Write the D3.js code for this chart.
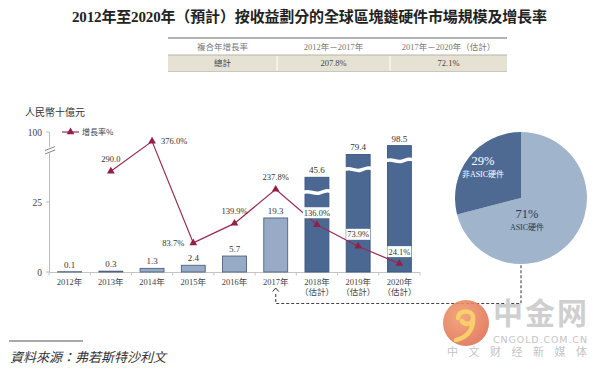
<!DOCTYPE html>
<html>
<head>
<meta charset="utf-8">
<script src="https://cdn.jsdelivr.net/npm/d3@7"></script>
<style>
  body { margin: 0; background: #fff; }
</style>
</head>
<body>
<div id="chart"></div>
<script>
// data
const title = "2012年至2020年（預計）按收益劃分的全球區塊鏈硬件市場規模及增長率";
const cagrHeader = ["複合年增長率", "2012年－2017年", "2017年－2020年（估計）"];
const cagrRow = ["總計", "207.8%", "72.1%"];

const years = ["2012", "2013", "2014", "2015", "2016", "2017", "2018", "2019", "2020"];
const forecast = [false, false, false, false, false, false, true, true, true];
const marketSize = [0.1, 0.3, 1.3, 2.4, 5.7, 19.3, 45.6, 79.4, 98.5];
const sizeLabels = ["0.1", "0.3", "1.3", "2.4", "5.7", "19.3", "45.6", "79.4", "98.5"];

const growthYears = ["2013", "2014", "2015", "2016", "2017", "2018", "2019", "2020"];
const growth = [290.0, 376.0, 83.7, 139.9, 237.8, 136.0, 73.9, 24.1];
const growthLabels = ["290.0", "376.0%", "83.7%", "139.9%", "237.8%", "136.0%", "73.9%", "24.1%"];
const growthPlace = ["above", "right", "left", "above", "above", "above", "above", "above"];

const yTicks = [0, 25, 100];
const pieNames = ["ASIC硬件", "非ASIC硬件"];
const pieValues = [71, 29];

const SERIF = "'Liberation Serif','Noto Sans CJK TC',serif";
const CJK = "'Noto Sans CJK TC','Noto Sans CJK SC',sans-serif";

const svg = d3.select("#chart").append("svg")
    .attr("width", 600)
    .attr("height", 370)
    .style("background", "#fff");

// title
svg.append("text")
    .attr("x", 72).attr("y", 22)
    .attr("textLength", 475).attr("lengthAdjust", "spacing")
    .style("font-family", SERIF).style("font-size", "15px").style("font-weight", "bold")
    .attr("fill", "#222")
    .text(title);

// CAGR table
const colX = [168, 277, 390, 507];
const tbl = svg.append("g");
tbl.append("rect").attr("x", colX[0]).attr("y", 55).attr("width", colX[3] - colX[0]).attr("height", 16)
    .attr("fill", "#e5e2d4");
tbl.append("line").attr("x1", colX[0]).attr("x2", colX[3]).attr("y1", 38).attr("y2", 38)
    .attr("stroke", "#999").attr("stroke-width", 1.3);
tbl.append("line").attr("x1", colX[0]).attr("x2", colX[3]).attr("y1", 55).attr("y2", 55)
    .attr("stroke", "#b5b3a6").attr("stroke-width", 1);
tbl.append("line").attr("x1", colX[0]).attr("x2", colX[3]).attr("y1", 71.5).attr("y2", 71.5)
    .attr("stroke", "#c9c7bb").attr("stroke-width", 1);
[colX[1], colX[2]].forEach(cx => {
  tbl.append("line").attr("x1", cx).attr("x2", cx).attr("y1", 56).attr("y2", 71)
      .attr("stroke", "#fff").attr("stroke-width", 1);
});
cagrHeader.forEach((t, i) => {
  tbl.append("text").attr("x", (colX[i] + colX[i + 1]) / 2).attr("y", 49.5)
      .attr("text-anchor", "middle").attr("fill", "#777")
      .style("font-family", SERIF).style("font-size", "8.5px").text(t);
});
cagrRow.forEach((t, i) => {
  tbl.append("text").attr("x", (colX[i] + colX[i + 1]) / 2).attr("y", 66)
      .attr("text-anchor", "middle").attr("fill", "#444")
      .style("font-family", SERIF).style("font-size", "8.5px").text(t);
});

// scales
const x = d3.scaleBand().domain(years).range([49, 420]).paddingInner(0.42).paddingOuter(0.21);
const bw = x.bandwidth();
const cx = d => x(d) + bw / 2;
const yLow = d3.scaleLinear().domain([0, 25]).range([272, 202]);
const yHigh = d3.scaleLog().domain([25, 100]).range([202, 145]);   // compressed part above the axis break
const y = v => v <= 25 ? yLow(v) : yHigh(v);
const yG = d3.scaleLinear().domain([0, 400]).range([272, 133]);
const axisTop = 132;

// y axis title
svg.append("text").attr("x", 25).attr("y", 116)
    .attr("fill", "#333").style("font-family", CJK).style("font-size", "10px")
    .text("人民幣十億元");

// y axis with break
const ax = svg.append("g").attr("stroke", "#bbb").attr("stroke-width", 1);
ax.append("line").attr("x1", 49.5).attr("x2", 49.5).attr("y1", y(0)).attr("y2", 153);
ax.append("line").attr("x1", 49.5).attr("x2", 49.5).attr("y1", 147).attr("y2", axisTop);
svg.append("rect").attr("x", 44).attr("y", 147.5).attr("width", 12).attr("height", 4.5).attr("fill", "#fff");
[[150.5, 146.5], [154, 150]].forEach(([a, b]) => {
  svg.append("line").attr("x1", 45).attr("x2", 55).attr("y1", a).attr("y2", b)
      .attr("stroke", "#777").attr("stroke-width", 0.9);
});
yTicks.forEach(t => {
  const ty = t === 100 ? axisTop : y(t);
  svg.append("line").attr("x1", 46).attr("x2", 49.5).attr("y1", ty).attr("y2", ty)
      .attr("stroke", "#bbb");
  svg.append("text").attr("x", 42).attr("y", ty + 3.5).attr("text-anchor", "end")
      .attr("fill", "#444").style("font-family", SERIF).style("font-size", "9.5px").text(t);
});

// x axis
svg.append("line").attr("x1", 49).attr("x2", 420).attr("y1", 272.5).attr("y2", 272.5)
    .attr("stroke", "#c4c4c4");
const bounds = years.map(d => x(d) - x.step() * x.paddingInner() / 2)
    .concat([x(years[years.length - 1]) + bw + x.step() * x.paddingInner() / 2]);
svg.append("g").selectAll("line").data(bounds).join("line")
    .attr("x1", d => d).attr("x2", d => d).attr("y1", 272.5).attr("y2", 275.5)
    .attr("stroke", "#c4c4c4");
const xl = svg.append("g").selectAll("text").data(years).join("text")
    .attr("x", d => cx(d)).attr("y", 285)
    .attr("text-anchor", "middle").attr("fill", "#444")
    .style("font-family", SERIF).style("font-size", "8.5px");
xl.append("tspan").text(d => d + "年");
xl.filter((d, i) => forecast[i]).append("tspan")
    .attr("x", d => cx(d)).attr("dy", 9.5).text("（估計）");

// bars
const bars = years.map((yr, i) => ({ yr, v: marketSize[i], est: forecast[i], label: sizeLabels[i] }));
svg.append("g").selectAll("rect").data(bars).join("rect")
    .attr("x", d => x(d.yr)).attr("y", d => y(d.v))
    .attr("width", bw).attr("height", d => y(0) - y(d.v))
    .attr("fill", d => d.est ? "#4b6893" : "#97abc6")
    .attr("stroke", d => d.est ? "#3b5580" : "#4f6283")
    .attr("stroke-width", 0.9);

// wavy white breaks on the forecast bars
svg.append("g").selectAll("path").data(bars.filter(d => d.v > 25)).join("path")
    .attr("d", d => {
      const x0 = x(d.yr) - 2, x1 = x(d.yr) + bw + 2, yy = y(d.v) + 15;
      const w = x1 - x0;
      return `M${x0},${yy} C${x0 + w * 0.25},${yy - 2.5} ${x0 + w * 0.4},${yy + 2.5} ${x0 + w * 0.6},${yy + 0.5}` +
             ` S${x0 + w * 0.85},${yy - 2} ${x1},${yy - 1}`;
    })
    .attr("fill", "none").attr("stroke", "#fff").attr("stroke-width", 3.5);

// bar value labels
svg.append("g").selectAll("text").data(bars).join("text")
    .attr("x", d => cx(d.yr)).attr("y", d => y(d.v) - 4)
    .attr("text-anchor", "middle").attr("fill", "#333")
    .style("font-family", SERIF).style("font-size", "9px")
    .text(d => d.label);

// growth line
const LINE = "#9b2a50";
const pts = growthYears.map((yr, i) => ({ yr, g: growth[i], label: growthLabels[i], place: growthPlace[i] }));
svg.append("path").datum(pts)
    .attr("d", d3.line().x(d => cx(d.yr)).y(d => yG(d.g)))
    .attr("fill", "none").attr("stroke", LINE).attr("stroke-width", 1.2);

const gl = svg.append("g");
pts.forEach(p => {
  const px = cx(p.yr), py = yG(p.g);
  let tx = px, ty = py - 9, anchor = "middle";
  if (p.place === "right") { tx = px + 9; ty = py + 3; anchor = "start"; }
  if (p.place === "left") { tx = px - 9; ty = py + 3; anchor = "end"; }
  const t = gl.append("text").attr("x", tx).attr("y", ty).attr("text-anchor", anchor)
      .attr("fill", "#333").style("font-family", SERIF).style("font-size", "8.5px")
      .text(p.label);
  if (forecast[years.indexOf(p.yr)]) {
    const b = t.node().getBBox();
    gl.insert("rect", "text").attr("x", b.x - 1).attr("y", b.y - 0.5)
        .attr("width", b.width + 2).attr("height", b.height + 1).attr("fill", "#fff");
  }
});

const tri = d3.symbol(d3.symbolTriangle).size(26);
svg.append("g").selectAll("path").data(pts).join("path")
    .attr("transform", d => `translate(${cx(d.yr)},${yG(d.g)})`)
    .attr("d", tri).attr("fill", "#931f46");

// legend
svg.append("line").attr("x1", 62).attr("x2", 79).attr("y1", 132).attr("y2", 132)
    .attr("stroke", LINE).attr("stroke-width", 1.2);
svg.append("path").attr("transform", "translate(70.5,132)").attr("d", tri).attr("fill", "#931f46");
svg.append("text").attr("x", 82).attr("y", 135)
    .attr("fill", "#444").style("font-family", CJK).style("font-size", "8px")
    .text("增長率%");

// pie of 2017 split
const pcx = 521, pcy = 198, pr = 66;
const pie = d3.pie().sort(null)(pieValues);
const arc = d3.arc().innerRadius(0).outerRadius(pr);
const pg = svg.append("g").attr("transform", `translate(${pcx},${pcy})`);
pg.selectAll("path").data(pie).join("path")
    .attr("d", arc)
    .attr("fill", (d, i) => i === 0 ? "#a0b4cc" : "#4e6a92");
const labelOff = [[6, 20], [-38, -33]];
const labelCol = ["#2b3a55", "#fff"];
pie.forEach((d, i) => {
  pg.append("text").attr("x", labelOff[i][0]).attr("y", labelOff[i][1])
      .attr("text-anchor", "middle").attr("fill", labelCol[i])
      .style("font-family", SERIF).style("font-size", "12.5px")
      .text(d.value + "%");
  pg.append("text").attr("x", labelOff[i][0]).attr("y", labelOff[i][1] + 11.5)
      .attr("text-anchor", "middle").attr("fill", labelCol[i])
      .style("font-family", SERIF).style("font-size", "8px")
      .text(pieNames[i]);
});

// dashed connector from 2017 bar to pie
const c17 = cx("2017");
svg.append("path").attr("d", `M${c17 - 3},${291.5} L${c17},${288} L${c17 + 3},${291.5}`)
    .attr("fill", "none").attr("stroke", "#333").attr("stroke-width", 1);
svg.append("path")
    .attr("d", `M${c17},${294} V303.5 H${pcx} V${pcy + pr}`)
    .attr("fill", "none").attr("stroke", "#444").attr("stroke-width", 1.1)
    .attr("stroke-dasharray", "3,2");

// source note
svg.append("line").attr("x1", 9).attr("x2", 83).attr("y1", 341).attr("y2", 341)
    .attr("stroke", "#555").attr("stroke-width", 1);
svg.append("text").attr("x", 10).attr("y", 362)
    .attr("fill", "#333").style("font-family", CJK).style("font-size", "13px").style("font-style", "italic")
    .text("資料來源：弗若斯特沙利文");

// watermark
const wm = svg.append("g");
const grad = svg.append("defs").append("radialGradient").attr("id", "wmg")
    .attr("cx", "40%").attr("cy", "35%").attr("r", "70%");
grad.append("stop").attr("offset", "0%").attr("stop-color", "#f0a070");
grad.append("stop").attr("offset", "100%").attr("stop-color", "#e06f55");
wm.append("circle").attr("cx", 466).attr("cy", 323).attr("r", 23).attr("fill", "url(#wmg)").attr("opacity", 0.9);
wm.append("path")
    .attr("d", "M458,318 C458,310 472,309 473,317 C474,324 465,326 462,321 M473,318 C474,330 466,338 456,340")
    .attr("fill", "none").attr("stroke", "#f8cf6a").attr("stroke-width", 4.5).attr("stroke-linecap", "round");
wm.append("text").attr("x", 493).attr("y", 324).attr("textLength", 94)
    .attr("fill", "#cfcfcf").style("font-family", CJK).style("font-size", "30px").style("font-weight", "bold")
    .text("中金网");
wm.append("text").attr("x", 493).attr("y", 342.5).attr("textLength", 94)
    .attr("fill", "#c4c4c4").style("font-family", "'DejaVu Sans',sans-serif").style("font-size", "9.5px")
    .text("CNGOLD.COM.CN");
wm.append("text").attr("x", 447).attr("y", 356).attr("textLength", 140)
    .attr("fill", "#c4c4c4").style("font-family", CJK).style("font-size", "11px")
    .text("中文财经新媒体");
</script>
</body>
</html>
